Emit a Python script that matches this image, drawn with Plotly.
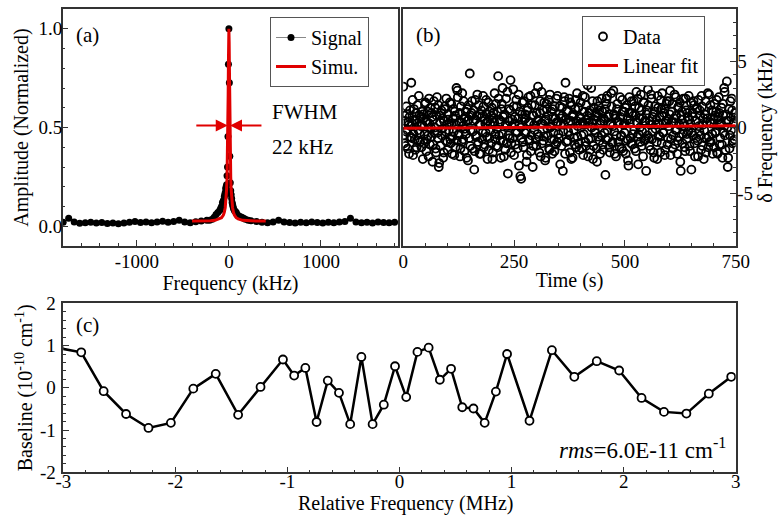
import plotly.graph_objects as go

W, H = 778, 518
FONT = "Liberation Serif"
RED = "#e00000"
AX = "#333333"

# ---- panel (a): beat-note signal and Lorentzian simulation ----
sig_x = [-1800, -1740, -1680, -1620, -1560, -1500, -1440, -1380, -1320, -1260,
         -1200, -1140, -1080, -1020, -960, -900, -840, -780, -720, -660,
         -600, -540, -480, -420, -360, -300, -240,
         -210, -180, -160, -140, -120, -100, -90, -80, -70, -60, -50, -45, -40,
         -35, -30, -25, -20, -15, -10, -5, 0, 5, 10, 15, 20, 25, 30, 35, 40,
         45, 50, 60, 70, 80, 90, 100, 120, 140, 160, 180, 210,
         240, 300, 360, 420, 480, 540, 600, 660, 720, 780, 840, 900, 960, 1020,
         1080, 1140, 1200, 1260, 1320, 1380, 1440, 1500, 1560, 1620, 1680, 1740, 1800]
sig_y = [0.020, 0.040, 0.022, 0.015, 0.018, 0.020, 0.016, 0.019, 0.014, 0.017,
         0.013, 0.016, 0.020, 0.024, 0.019, 0.022, 0.018, 0.021, 0.025, 0.020,
         0.024, 0.030, 0.022, 0.018, 0.023, 0.027, 0.030,
         0.030, 0.035, 0.045, 0.060, 0.070, 0.080, 0.090, 0.100, 0.120, 0.130, 0.150, 0.160, 0.170,
         0.190, 0.200, 0.210, 0.256, 0.300, 0.455, 0.820, 1.000, 0.727, 0.354, 0.220, 0.180, 0.160, 0.140, 0.120, 0.110,
         0.100, 0.090, 0.080, 0.075, 0.070, 0.060, 0.055, 0.050, 0.045, 0.040, 0.035, 0.030,
         0.028, 0.024, 0.020, 0.018, 0.022, 0.030, 0.021, 0.019, 0.017, 0.020, 0.018, 0.022, 0.019, 0.016,
         0.020, 0.018, 0.021, 0.024, 0.040, 0.022, 0.018, 0.020, 0.017, 0.021, 0.019, 0.018, 0.020]

simu_x = [-400, -300, -200, -150, -100, -80, -60, -50, -40, -30, -25, -20, -15, -11, -8, -5, -3, 0,
          3, 5, 8, 11, 15, 20, 25, 30, 40, 50, 60, 80, 100, 150, 200, 300, 400]
simu_y = [0.026, 0.026, 0.028, 0.030, 0.037, 0.043, 0.057, 0.070, 0.094, 0.140, 0.185, 0.250, 0.370,
          0.510, 0.660, 0.830, 0.930, 1.000,
          0.930, 0.830, 0.660, 0.510, 0.370, 0.250, 0.185, 0.140, 0.094, 0.070, 0.057, 0.043, 0.037,
          0.030, 0.028, 0.026, 0.026]

# ---- panel (b): frequency drift, sampled every second (even / odd seconds) ----
t_even = list(range(0, 750, 2))
dfreq_even = [
    3.1, -1.2, 0.5, -0.3, 1.0, -1.6, 0.2, 0.8, -0.7, 3.4, 0.3, -2.1, 1.4, -0.9, 0.6, -1.5, 1.7, -0.2, 0.9, -1.1, 0.1, 1.2, -2.4, 0.7, -0.5,
    1.9, -1.8, 0.4, -0.6, 2.2, -1.3, 0.0, 1.1, -2.6, 0.6, -0.4, 1.5, -1.9, 2.3, -0.8, -3.0, 0.9, -1.4, 1.3, -0.1, -2.3, 0.5, 1.6, -1.0, 0.2,
    -1.7, 1.0, 0.3, -0.9, 1.8, -2.0, 0.7, -0.3, 1.2, -1.5, 3.0, 2.8, -0.6, 0.4, -2.2, 1.6, -1.1, 0.1, 2.0, -1.8, 0.8, -0.5, 1.4, -2.5, 0.6,
    4.1, -0.2, 1.1, -1.6, 0.5, -3.2, 2.1, -0.7, 0.9, -1.3, 1.7, -2.0, 0.2, 1.3, -0.9, 2.4, -1.5, 0.6, -0.4, 1.0, -2.4, 1.9, -0.8, 0.3, -1.2,
    1.5, -1.9, 0.7, 2.6, -0.5, -1.4, 1.2, 3.9, -0.6, 0.4, -2.3, 1.8, 3.0, -1.0, 0.9, -1.7, 2.2, 0.1, -3.5, 1.4, -0.8, 3.6, -1.2, 0.6, 2.9,
    -2.1, 0.8, -0.3, 1.6, -1.6, 2.5, 0.2, -3.7, -3.9, 1.0, -1.1, 2.0, -0.4, 0.7, -2.6, 1.3, 2.3, -0.9, 0.4, -1.8, 1.7, -3.0, 0.9, -0.2, 2.6,
    -1.4, 0.5, 3.1, -0.7, 1.1, -2.2, 2.7, 0.3, -1.0, 1.9, -2.5, 0.6, 1.4, -0.6, 2.1, -1.7, 0.0, 1.2, -2.0, 0.8, -0.9, 1.6, -1.3, 0.4, 2.4,
    -0.5, 1.0, -2.8, 0.7, 1.5, -3.3, 0.2, 2.0, 3.4, -1.1, 1.3, -0.3, 2.2, -1.9, 0.5, 1.7, -2.3, 0.9, -0.8, 1.4, -1.5, 2.6, 0.1, -1.2, 0.8,
    1.9, -0.6, 0.4, -2.1, 1.2, 2.3, -1.4, 0.6, 3.2, -0.9, 1.1, -1.7, 3.0, 0.3, -2.4, 1.5, -0.2, 0.9, -1.6, 2.0, -0.7, 1.3, -2.0, 0.5, 2.2,
    -1.3, 0.7, -0.4, -3.6, 1.8, 2.4, -0.8, 1.0, -1.9, 0.2, 1.6, -1.1, 2.8, -0.3, 0.9, -2.2, 1.4, 0.4, 3.6, -1.5, 0.8, -0.6, 2.1, -1.8, 1.2,
    0.3, -2.0, 1.7, -0.9, -2.9, 2.3, 0.6, -1.2, 1.1, -0.5, 2.0, -1.6, 0.9, 2.7, -0.7, -2.8, 1.5, 0.0, 2.5, -1.4, 0.7, 1.9, -1.0, 0.4, -3.3,
    1.3, 2.9, -0.8, 0.5, -1.7, 2.2, -0.3, 1.0, -2.3, 1.6, 0.2, -1.1, 2.4, -0.6, 0.8, -1.9, 1.4, 2.6, -0.4, 1.1, -2.1, 0.3, 1.8, -1.3, 0.6,
    2.0, 2.8, -0.9, 1.2, -1.6, 0.4, 2.5, -0.2, 0.9, -2.0, 1.5, -0.7, 1.9, -3.3, 0.6, -1.2, 2.2, 0.1, -1.8, 1.3, -0.5, 0.8, 2.4, -1.4, 0.3,
    -3.2, 1.1, -0.6, 1.7, -2.2, 0.5, 1.4, -1.0, 2.1, -0.3, 0.9, -1.7, 1.6, 0.2, -2.4, 1.0, 2.0, -0.8, 0.7, -1.5, 2.5, 0.4, -1.1, 1.3, -2.0,
    0.6, 1.8, -0.4, 1.2, -1.9, 0.8, 2.3, -1.3, 0.3, 1.5, -2.3, 0.9, 3.0, -0.6, 1.0, 3.5, -3.0, 0.5, -1.6, 2.0, -0.2, 1.3, -1.0, 0.4, 1.1,
]
t_odd = list(range(1, 750, 2))
dfreq_odd = [
    -0.6, 0.9, -1.4, 1.6, -0.2, 0.4, -2.0, 1.3, 0.1, -0.8, 2.1, -0.5, 0.6, -1.7, 1.1, 0.3, -1.0, 2.4, -0.4, 0.8, -1.5, 0.2, 1.0, -1.2, 1.8,
    0.5, -0.9, 1.2, -2.2, 0.3, 1.5, -0.7, 0.8, -1.3, 2.0, 0.0, -1.6, 0.9, -0.4, 1.7, -2.7, 0.4, 1.1, -0.6, 0.7, -1.9, 1.4, -0.3, 2.2, -1.1,
    0.6, -0.2, 1.9, -1.2, 0.3, -0.7, 1.4, -2.1, 0.9, 0.2, -1.0, 2.3, -0.5, 1.1, -1.6, 0.4, 2.6, -0.9, 0.7, -0.1, 1.2, -2.3, 0.5, 1.7, -0.8,
    -1.4, 0.9, 2.0, -0.3, 1.3, -1.8, 0.6, -0.6, 2.5, -1.1, 0.2, 1.0, -2.0, 0.8, -0.4, 1.6, -1.3, 0.3, 2.1, -0.7, 0.5, -1.7, 1.2, -0.2, 0.9,
    -2.4, 1.1, 0.4, -0.9, 1.8, -0.1, -1.5, 2.2, 0.6, -1.0, 1.4, -0.5, 0.8, -2.2, 1.0, 0.2, -1.2, 2.7, -0.6, 0.5, 1.3, -1.9, 0.1, -0.8, 1.6,
    0.3, -1.3, 2.1, -0.4, 0.7, -2.9, 1.2, 0.0, -0.8, 1.9, -1.5, 0.6, 1.0, -0.3, -2.1, 1.5, 0.4, -1.0, 2.4, -0.6, 0.9, -1.4, 0.2, 1.7, -0.9,
    1.1, -0.5, 0.6, -1.9, 2.0, 0.3, -1.2, 1.3, -0.7, 0.5, -2.3, 1.8, -0.1, 0.9, -1.6, 2.5, 0.1, -0.9, 1.4, -0.4, -1.8, 0.7, 2.2, -1.1, 0.4,
    -0.8, 1.6, 0.2, -1.4, 0.9, -0.3, 2.3, -2.0, 0.6, 1.2, -1.0, 0.4, -0.6, 1.9, -2.4, 0.8, 1.0, -0.2, -1.3, 2.1, 0.5, -0.7, 1.5, -1.7, 0.3,
    0.7, -1.6, 2.4, -0.5, 0.2, -1.1, 1.7, 0.9, -2.2, 0.4, 1.3, -0.8, 0.0, 2.0, -1.4, 0.6, -0.4, 1.1, -2.6, 0.8, 1.6, -1.0, 0.3, -0.6, 1.2,
    -1.7, 0.5, 1.4, -0.9, 2.2, -0.2, 0.8, -1.5, 0.3, 2.6, -1.2, 0.1, 1.0, -2.0, 0.7, -0.6, 1.8, -1.1, 0.4, 2.3, -0.7, -1.6, 1.2, 0.2, -0.4,
    1.5, -1.0, 0.6, -2.5, 1.1, 0.3, -0.8, 2.0, -1.3, 0.9, -0.2, 1.6, -1.8, 0.4, 2.2, -0.5, 0.7, -1.1, 1.3, -0.3, -2.2, 1.9, 0.5, -0.9, 1.0,
    -0.6, 1.7, -1.4, 0.2, 2.5, -0.9, 0.8, -1.9, 1.2, -0.1, 0.6, -2.4, 1.5, 0.3, -0.7, 2.1, -1.2, 0.9, -0.4, 1.4, -1.7, 0.5, 2.0, -0.8, 0.1,
    1.0, -2.1, 0.4, 1.8, -0.6, 0.7, -1.3, 2.3, -0.2, -1.0, 1.6, 0.2, -2.6, 0.9, 1.2, -0.5, 0.3, -1.5, 2.2, -0.9, 1.1, -0.3, 0.6, -1.8, 1.9,
    -0.4, 0.8, 2.0, -1.2, 0.5, -0.8, 1.5, -2.2, 0.1, 1.3, -0.6, 2.4, -1.4, 0.7, -0.2, 1.0, -1.9, 0.4, 2.6, -0.7, -1.1, 1.7, 0.3, -0.5, 1.2,
    -1.5, 0.9, -0.3, 2.1, -2.0, 0.6, 1.1, -0.8, 0.2, -1.3, 1.8, -0.4, 2.7, -1.7, 0.5, 0.0, -2.3, 1.4, -0.6, 0.8, 2.2, -1.2, 0.3, -0.9, 0.7,
]
fit_t = [0, 750]
fit_y = [-0.05, 0.13]

# ---- panel (c): baseline residual ----
rel_mhz = [-3.04, -2.84, -2.64, -2.44, -2.24, -2.04, -1.84, -1.64, -1.44, -1.24, -1.04,
           -0.94, -0.84, -0.74, -0.64, -0.54, -0.44, -0.34, -0.24, -0.14, -0.04,
           0.06, 0.16, 0.26, 0.36, 0.46, 0.56, 0.66, 0.76, 0.86, 0.96,
           1.16, 1.36, 1.56, 1.76, 1.96, 2.16, 2.36, 2.56, 2.76, 2.96]
baseline = [0.94, 0.84, -0.08, -0.62, -0.95, -0.83, -0.02, 0.33, -0.64, 0.02, 0.67,
            0.29, 0.47, -0.81, 0.17, -0.12, -0.86, 0.73, -0.86, -0.40, 0.51,
            -0.22, 0.85, 0.95, 0.19, 0.45, -0.46, -0.49, -0.83, -0.09, 0.80,
            -0.78, 0.89, 0.26, 0.63, 0.41, -0.24, -0.57, -0.61, -0.14, 0.26]


def px(x):
    return x / W


def py(y):
    return 1 - y / H


fig = go.Figure()

fig.add_trace(go.Scatter(x=sig_x, y=sig_y, mode="lines+markers", name="Signal",
                         line=dict(color="#888888", width=1),
                         marker=dict(color="black", size=7),
                         xaxis="x", yaxis="y", legend="legend"))
fig.add_trace(go.Scatter(x=simu_x, y=simu_y, mode="lines", name="Simu.",
                         line=dict(color=RED, width=3),
                         xaxis="x", yaxis="y", legend="legend"))

fig.add_trace(go.Scatter(x=t_even + t_odd, y=dfreq_even + dfreq_odd, mode="markers", name="Data",
                         marker=dict(symbol="circle-open", color="black", size=8,
                                     line=dict(width=1.8)),
                         xaxis="x2", yaxis="y2", legend="legend2"))
fig.add_trace(go.Scatter(x=fit_t, y=fit_y, mode="lines", name="Linear fit",
                         line=dict(color=RED, width=3),
                         xaxis="x2", yaxis="y2", legend="legend2"))

fig.add_trace(go.Scatter(x=rel_mhz, y=baseline, mode="lines+markers", showlegend=False,
                         line=dict(color="black", width=2.5),
                         marker=dict(symbol="circle", color="white", size=8,
                                     line=dict(color="black", width=1.8)),
                         xaxis="x3", yaxis="y3"))


def axis(**kw):
    base = dict(showline=True, mirror=True, linecolor=AX, linewidth=1.5,
                showgrid=False, zeroline=False, ticks="inside", ticklen=6,
                tickwidth=1.2, tickcolor=AX, automargin=False,
                tickfont=dict(family=FONT, size=19, color="black"),
                title_font=dict(family=FONT, size=20, color="black"))
    minor = kw.pop("minor_dtick")
    base["minor"] = dict(dtick=minor, ticks="inside", ticklen=3, tickcolor=AX, tickwidth=1)
    base.update(kw)
    return base


legend_style = dict(xanchor="left", yanchor="top", bgcolor="white",
                    bordercolor="#555555", borderwidth=1,
                    font=dict(family=FONT, size=20, color="black"),
                    tracegroupgap=0, itemwidth=30)

fig.update_layout(
    width=W, height=H,
    margin=dict(l=0, r=0, t=0, b=0),
    paper_bgcolor="white", plot_bgcolor="white",
    font=dict(family=FONT, color="black"),
    xaxis=axis(domain=[px(62.7), px(398.3)], anchor="y", range=[-1805, 1840],
               dtick=1000, tick0=0, minor_dtick=200, ticklabelstandoff=-3,
               labelalias={"−1000": "-1000"},
               title=dict(text="Frequency (kHz)", standoff=2)),
    yaxis=axis(domain=[py(246), py(9)], anchor="x", range=[-0.1, 1.1],
               dtick=0.5, tick0=0, tickformat=".1f", minor_dtick=0.1,
               ticklabelstandoff=-5,
               title=dict(text="Amplitude (Normalized)", standoff=4)),
    xaxis2=axis(domain=[px(403.3), px(735.7)], anchor="y2", range=[0, 750],
                dtick=250, tick0=0, minor_dtick=50, ticklabelstandoff=-3,
                title=dict(text="Time (s)", standoff=2)),
    yaxis2=axis(domain=[py(246), py(9)], anchor="x2", side="right", range=[-9, 9],
                dtick=5, tick0=0, minor_dtick=1, ticklabelstandoff=-4,
                labelalias={"−5": "-5"},
                title=dict(text="δ Frequency (kHz)", standoff=6)),
    xaxis3=axis(domain=[px(63.3), px(735.7)], anchor="y3", range=[-3, 3],
                dtick=1, tick0=0, minor_dtick=0.2, ticklabelstandoff=-9,
                labelalias={"−3": "-3", "−2": "-2", "−1": "-1"}),
    yaxis3=axis(domain=[py(472.3), py(303.3)], anchor="x3", range=[-2, 2],
                dtick=1, tick0=0, minor_dtick=0.2, ticklabelstandoff=2,
                labelalias={"−2": "-2", "−1": "-1"},
                title=dict(text="Baseline (10<sup>-10</sup> cm<sup>-1</sup>)", standoff=2)),
    legend=dict(x=px(270), y=py(17), **legend_style),
    legend2=dict(x=px(582), y=py(16), **legend_style),
)

txt = dict(family=FONT, size=21, color="black")
notes = [
    dict(text="(a)", x=px(74), y=py(35)),
    dict(text="(b)", x=px(414), y=py(35)),
    dict(text="(c)", x=px(74), y=py(325)),
    dict(text="FWHM", x=px(270), y=py(112)),
    dict(text="22 kHz", x=px(270), y=py(147)),
]
for n in notes:
    fig.add_annotation(xref="paper", yref="paper", xanchor="left", yanchor="middle",
                       showarrow=False, font=txt, **n)
fig.add_annotation(text="<i>rms</i>=6.0E-11 cm<sup>-1</sup>", xref="paper", yref="paper",
                   x=px(728), y=py(448), xanchor="right", yanchor="middle",
                   showarrow=False, font=dict(family=FONT, size=23, color="black"))
# x title of panel (c) sits tight under its tick labels
fig.add_annotation(text="Relative Frequency (MHz)", xref="paper", yref="paper",
                   x=px(405), y=py(503), xanchor="center", yanchor="middle",
                   showarrow=False, font=dict(family=FONT, size=20, color="black"))

# FWHM arrows pointing at the half-maximum
for tip, tail in [(-12, -370), (12, 370)]:
    fig.add_annotation(x=tip, y=0.51, ax=tail, ay=0.51, xref="x", yref="y",
                       axref="x", ayref="y", text="", showarrow=True,
                       arrowhead=2, arrowsize=1.2, arrowwidth=2, arrowcolor=RED)

# drop the default page margin so the figure sits at the window's corner
fig.write_html("out.html", config={"displayModeBar": False},
               post_script="document.body.style.margin='0';document.body.style.overflow='hidden';")
